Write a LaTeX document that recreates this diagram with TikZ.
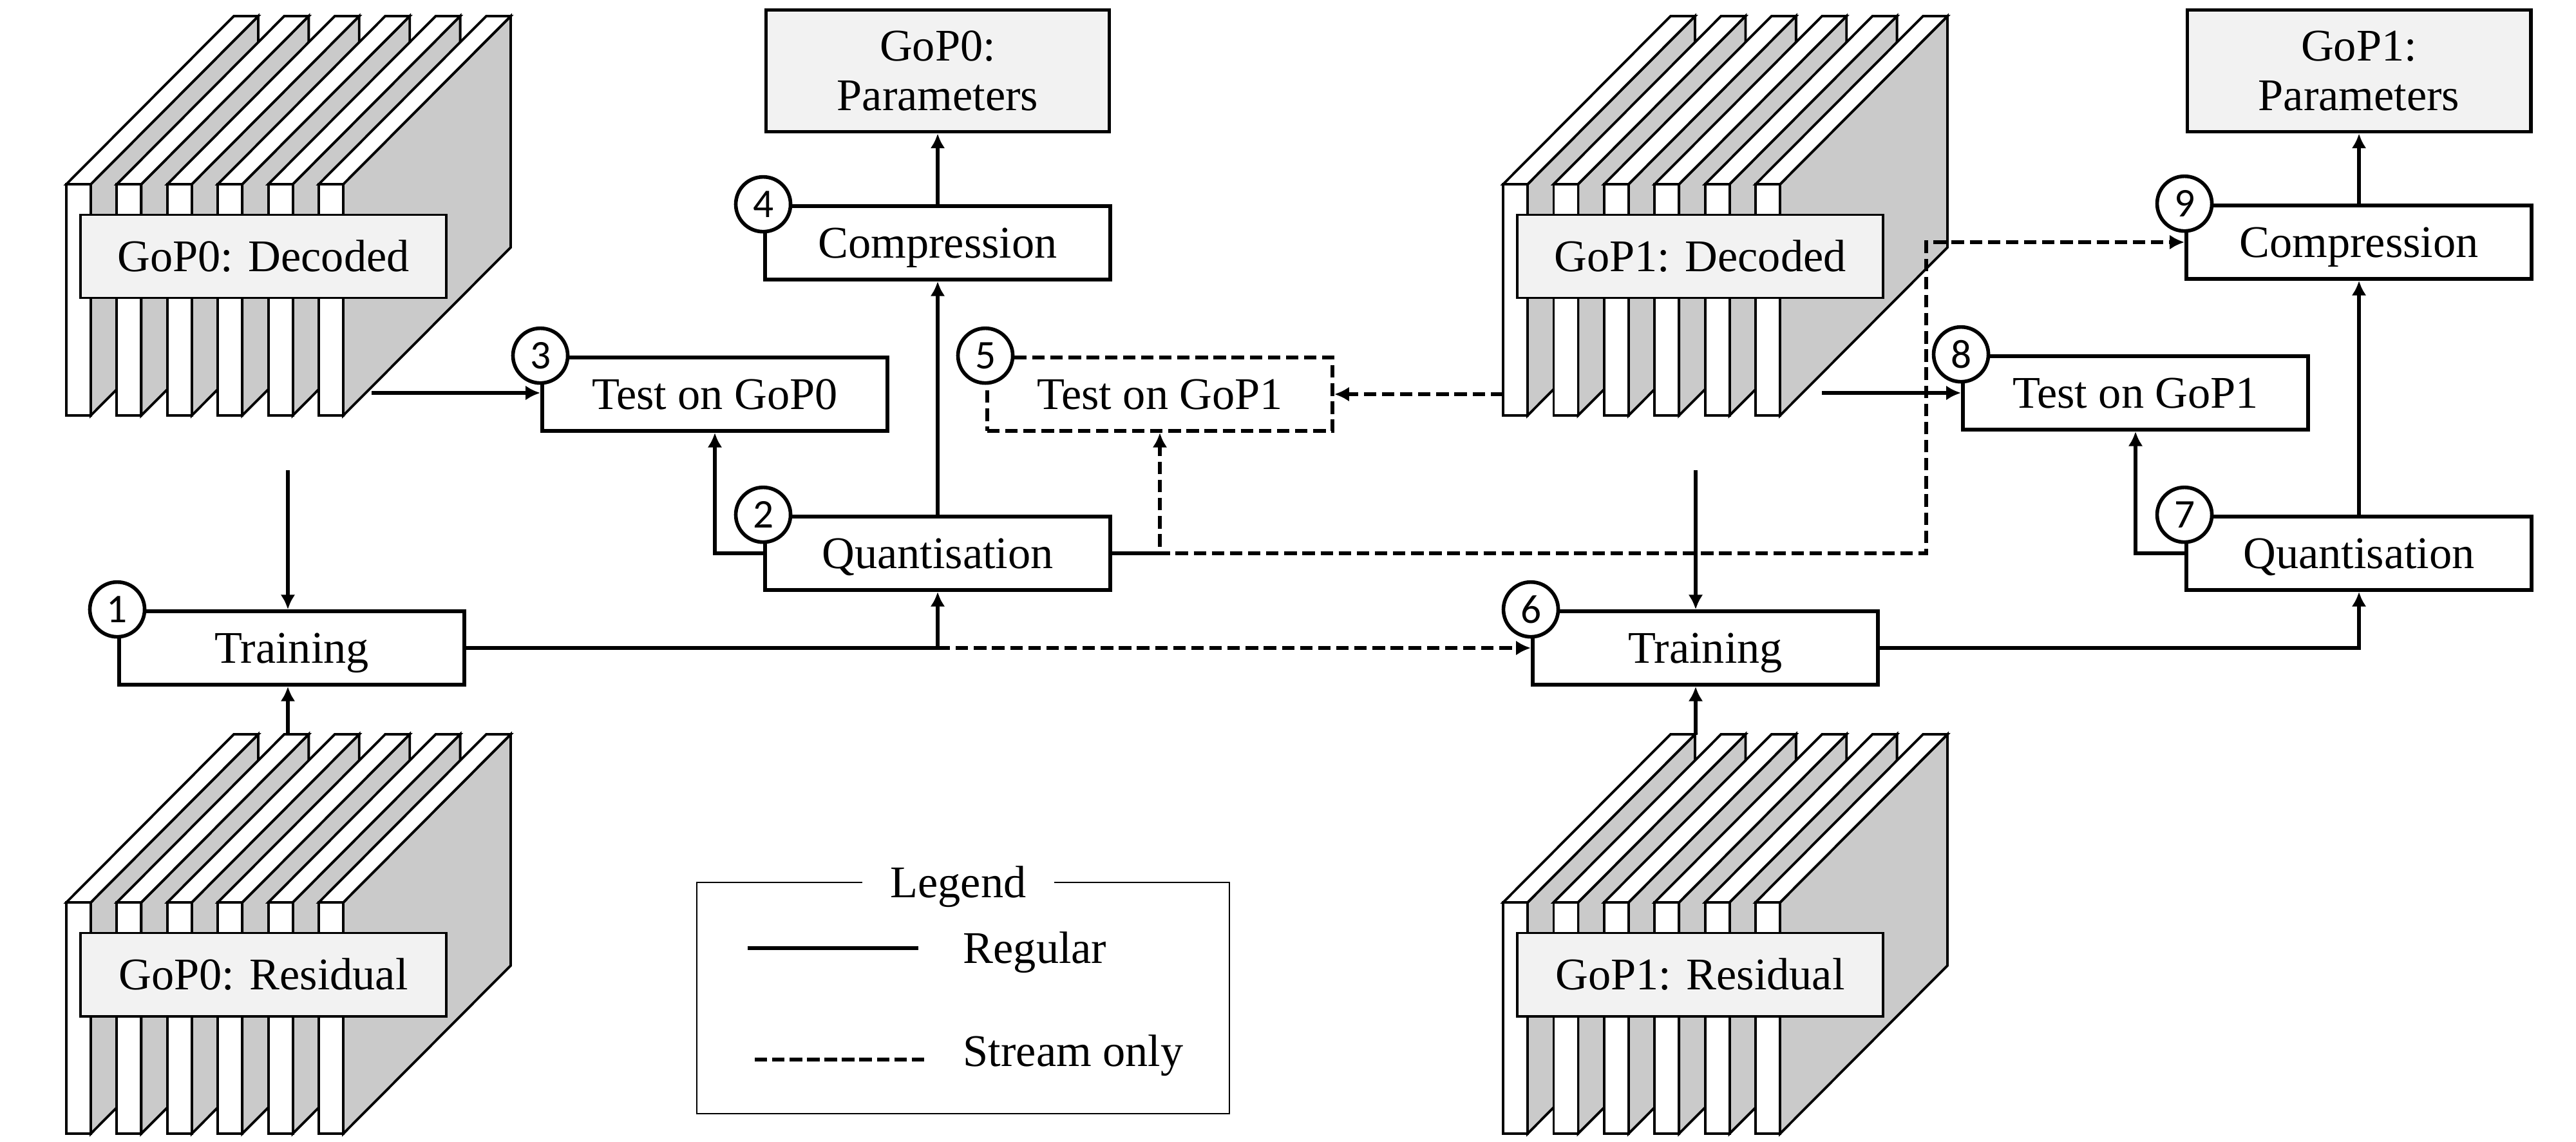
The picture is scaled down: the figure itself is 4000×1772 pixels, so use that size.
\documentclass[tikz,border=0pt]{standalone}
\usepackage{fontspec}
\setmainfont{Liberation Serif}
\newfontfamily\numfont{Carlito}
\usetikzlibrary{arrows.meta}

\definecolor{framegray}{HTML}{CACACA}
\definecolor{labelgray}{HTML}{F2F2F2}

\tikzset{
  proc/.style={draw=black, line width=1.6pt, fill=white, minimum width=5.36cm,
    minimum height=1.14cm, inner sep=0pt, text height=13.2pt, text depth=0pt,
    font=\fontsize{20}{22}\selectfont},
  result/.style={draw=black, line width=1.6pt, fill=labelgray, minimum width=5.33cm,
    minimum height=1.89cm, inner sep=0pt, align=center, font=\fontsize{20}{22}\selectfont},
  streambox/.style={proc, dash pattern=on 5.5pt off 2.5pt},
  num/.style={circle, draw=black, line width=1.6pt, fill=white, minimum size=0.85cm,
    inner sep=0pt, font=\numfont\fontsize{18}{18}\selectfont},
  flow/.style={->, line width=1.6pt},
  stream/.style={->, line width=1.6pt, dash pattern=on 5.5pt off 2.5pt},
  framepart/.style={draw=black, line width=1.1pt, line join=miter},
  gopbox/.style={draw=black, line width=1.1pt, fill=labelgray, minimum width=5.67cm,
    minimum height=1.29cm, inner sep=0pt, text height=13.2pt, text depth=0pt,
    font=\fontsize{20}{22}\selectfont},
  legtext/.style={inner sep=0pt, text height=13.2pt, text depth=0pt, font=\fontsize{20}{22}\selectfont},
}

% stack of six frames: #1,#2 front top corner of first frame, #3 name, #4 label
\newcommand{\gopstack}[4]{%
  \begin{scope}[shift={(#1,#2)}]
    \foreach \i in {0,...,5} {
      \draw[framepart, fill=framegray] (78.4*\i+38,0) -- ++(260,-261) -- ++(0,359) -- ++(-260,261) -- cycle;
      \draw[framepart, fill=white] (78.4*\i,0) -- ++(260,-261) -- ++(38,0) -- ++(-260,261) -- cycle;
      \draw[framepart, fill=white] (78.4*\i,0) rectangle ++(38,359);
    }
    \node[gopbox] (#3) at (306,112) {#4};
  \end{scope}}

\begin{document}
\begin{tikzpicture}[x=0.01cm,y=-0.01cm,>={Latex[length=6.5pt,width=6.5pt]}]
    \useasboundingbox (0,0) rectangle (4000,1772);

    % Frame stacks
    \gopstack{103}{286}{dec0}{GoP0: Decoded}
    \gopstack{103}{1401}{res0}{GoP0: Residual}
    \gopstack{2334}{286}{dec1}{GoP1: Decoded}
    \gopstack{2334}{1401}{res1}{GoP1: Residual}

    % GoP0 blocks
    \node[proc] (T1) at (453,1006) {Training};
    \node[proc] (Q2) at (1456,859) {Quantisation};
    \node[proc] (T3) at (1110,612) {Test on GoP0};
    \node[proc] (C4) at (1456,377) {Compression};
    \node[result] (P0) at (1456,110) {GoP0:\\Parameters};
    \node[streambox] (T5) at (1801,612) {Test on GoP1};

    % GoP1 blocks
    \node[proc] (T6) at (2648,1006) {Training};
    \node[proc] (Q7) at (3663,859) {Quantisation};
    \node[proc] (T8) at (3316,610) {Test on GoP1};
    \node[proc] (C9) at (3663,376) {Compression};
    \node[result] (P1) at (3663,110) {GoP1:\\Parameters};

    % Free ends at the stacks
    \coordinate (d0) at (447,730);
    \coordinate (r0) at (447,1141);
    \coordinate (d0o) at (577,610);
    \coordinate (d1) at (2633,730);
    \coordinate (r1) at (2633,1141);
    \coordinate (d1o) at (2829,610);
    \coordinate (d1s) at (2334,612);
    \coordinate (j9) at (2991,859);

    % Regular flow
    \draw[flow] (d0) -- (d0 |- T1.north);
    \draw[flow] (r0) -- (r0 |- T1.south);
    \draw[flow] (d0o) -- (d0o -| T3.west);
    \draw[flow] (T1.east) -| (Q2.south);
    \draw[flow] (Q2.west) -| (T3.south);
    \draw[flow] (Q2) -- (C4);
    \draw[flow] (C4) -- (P0);
    \draw[flow] (d1) -- (d1 |- T6.north);
    \draw[flow] (r1) -- (r1 |- T6.south);
    \draw[flow] (d1o) -- (T8.west);
    \draw[flow] (T6.east) -| (Q7.south);
    \draw[flow] (Q7.west) -| (T8.south);
    \draw[flow] (Q7) -- (C9);
    \draw[flow] (C9) -- (P1);

    % Stream only
    \draw[stream] (Q2.south |- T1.east) -- (T6.west);
    \draw[stream] (Q2.east) -| (T5.south);
    \draw[stream, dash phase=4pt] (Q2.east) -- (j9) |- (C9.west);
    \draw[stream] (d1s) -- (T5.east);

    % Step numbers
    \node[num] (n1) at (T1.north west) {1};
    \node[num] (n2) at (Q2.north west) {2};
    \node[num] (n3) at (T3.north west) {3};
    \node[num] (n4) at (C4.north west) {4};
    \node[num] (n5) at (T5.north west) {5};
    \node[num] (n6) at (T6.north west) {6};
    \node[num] (n7) at (Q7.north west) {7};
    \node[num] (n8) at (T8.north west) {8};
    \node[num] (n9) at (C9.north west) {9};

    % Legend
    \draw[line width=0.8pt] (1082,1370) rectangle (1909,1729);
    \node[legtext, fill=white, inner xsep=0.44cm] (lg) at (1488,1370) {Legend};
    \coordinate (la) at (1161,1472);
    \coordinate (lb) at (1426,1472);
    \coordinate (lc) at (1172,1645);
    \coordinate (ld) at (1437,1645);
    \draw[line width=1.6pt] (la) -- (lb);
    \draw[line width=1.6pt, dash pattern=on 5.5pt off 2.2pt] (lc) -- (ld);
    \node[legtext, anchor=west] (lreg) at (1495,1472) {Regular};
    \node[legtext, anchor=west] (lstr) at (1495,1632) {Stream only};

\end{tikzpicture}
\end{document}
